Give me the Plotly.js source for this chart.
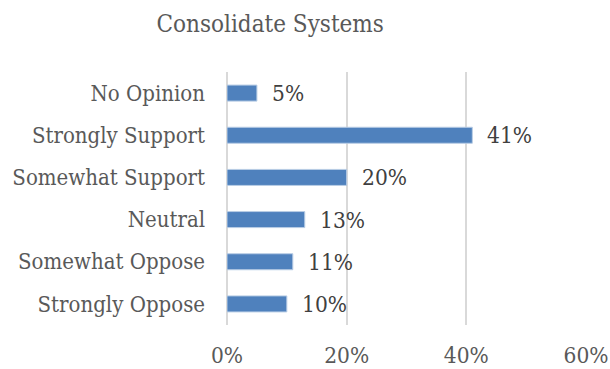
<!DOCTYPE html>
<html><head><meta charset="utf-8">
<script src="https://cdn.plot.ly/plotly-3.0.1.min.js"></script>
<style>html,body{margin:0;padding:0;background:#fff;}#chart{width:610px;height:369px;}</style>
</head><body><div id="chart"></div>
<script>
const categories = ["Strongly Oppose","Somewhat Oppose","Neutral","Somewhat Support","Strongly Support","No Opinion"];
const values = [10, 11, 13, 20, 41, 5];
const labels = ["10%","11%","13%","20%","41%","5%"];
const xTickVals = [0, 20, 40, 60];
const xTickText = ["0%","20%","40%","60%"];

const font = "'DejaVu Serif Condensed', 'DejaVu Serif', serif";
const trace = {
  type: "bar", orientation: "h", x: values, y: categories,
  marker: {color: "#4F81BD", line: {color: "#B9CDE5", width: 1}},
  hoverinfo: "none"
};
const annotations = values.map((v, i) => ({
  x: v, y: categories[i], text: labels[i], showarrow: false,
  xanchor: "left", xshift: 13, font: {family: font, size: 22.5, color: "#404040"}
}));
const layout = {
  width: 610, height: 369,
  margin: {l: 227, r: 24, t: 72, b: 44},
  paper_bgcolor: "#fff", plot_bgcolor: "#fff",
  title: {text: "Consolidate Systems", x: 0.443, xanchor: "center", y: 0.935, yanchor: "middle",
          font: {family: font, size: 24, color: "#595959"}},
  bargap: 0.62,
  showlegend: false,
  xaxis: {range: [0, 60], tickvals: xTickVals, ticktext: xTickText, showgrid: true,
          gridcolor: "#D9D9D9", gridwidth: 2, zeroline: true, zerolinecolor: "#D9D9D9", zerolinewidth: 2,
          showline: false, ticks: "", layer: "below traces",
          ticklabelstandoff: 14, tickfont: {family: font, size: 22.5, color: "#595959"}, fixedrange: true},
  yaxis: {type: "category", categoryorder: "array", categoryarray: categories,
          showgrid: false, zeroline: false, showline: false, ticks: "", ticklabelstandoff: 21,
          tickfont: {family: font, size: 22, color: "#595959"}, fixedrange: true},
  annotations: annotations
};
Plotly.newPlot("chart", [trace], layout, {displayModeBar: false, staticPlot: true});
</script></body></html>
